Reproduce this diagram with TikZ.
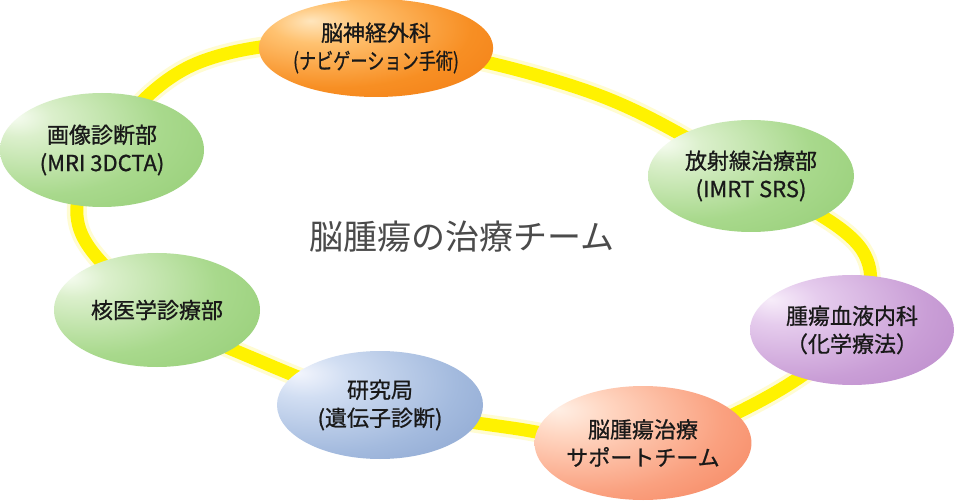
\documentclass[tikz,border=0pt]{standalone}
\usepackage{fontspec}
\setmainfont{Noto Sans CJK JP}
\newfontfamily\labelfont[FakeBold=0.9]{Noto Sans CJK JP}
\usetikzlibrary{shapes.geometric}
\pgfdeclareradialshading{shorange}{\pgfpoint{-14bp}{14bp}}{rgb(0bp)=(1,0.90,0.74); rgb(10bp)=(1,0.76,0.44); rgb(30bp)=(0.97,0.56,0.14); rgb(55bp)=(0.94,0.45,0.04); rgb(100bp)=(0.94,0.45,0.04)}
\pgfdeclareradialshading{shgreen}{\pgfpoint{-22bp}{15bp}}{rgb(0bp)=(0.97,0.99,0.95); rgb(8bp)=(0.86,0.94,0.80); rgb(30bp)=(0.66,0.85,0.55); rgb(60bp)=(0.54,0.78,0.41); rgb(100bp)=(0.54,0.78,0.41)}
\pgfdeclareradialshading{shpurple}{\pgfpoint{-20bp}{14bp}}{rgb(0bp)=(0.97,0.93,0.98); rgb(10bp)=(0.90,0.80,0.93); rgb(32bp)=(0.79,0.62,0.84); rgb(60bp)=(0.69,0.48,0.76); rgb(100bp)=(0.69,0.48,0.76)}
\pgfdeclareradialshading{shblue}{\pgfpoint{-20bp}{15bp}}{rgb(0bp)=(0.95,0.96,0.99); rgb(10bp)=(0.82,0.87,0.95); rgb(32bp)=(0.64,0.73,0.87); rgb(60bp)=(0.48,0.59,0.78); rgb(100bp)=(0.48,0.59,0.78)}
\pgfdeclareradialshading{shsalmon}{\pgfpoint{-20bp}{15bp}}{rgb(0bp)=(1,0.94,0.90); rgb(10bp)=(1,0.84,0.76); rgb(32bp)=(0.98,0.63,0.50); rgb(60bp)=(0.95,0.44,0.28); rgb(100bp)=(0.95,0.44,0.28)}
\definecolor{ringyellow}{RGB}{255,242,0}
\definecolor{ringglow}{RGB}{255,252,210}
\definecolor{labeltext}{RGB}{25,25,25}
\definecolor{titletext}{RGB}{75,75,75}
\tikzset{
  dept/.style={ellipse, minimum width=206pt, minimum height=112pt, inner sep=0pt,
    align=center, text=labeltext, font=\labelfont\fontsize{22}{28}\selectfont},
  ringglowline/.style={line width=20pt, ringglow, line cap=round},
  ringline/.style={line width=13pt, ringyellow, line cap=round},
}
\begin{document}
\begin{tikzpicture}[x=1pt,y=1pt]
\useasboundingbox (0,0) rectangle (960,-502);
\fill[white] (0,0) rectangle (960,-502);
% positions
\coordinate (o) at (376,-44);
\coordinate (img) at (102,-150);
\coordinate (nuc) at (157,-310);
\coordinate (res) at (380,-405);
\coordinate (sup) at (643,-443);
\coordinate (hem) at (852,-330);
\coordinate (rad) at (751,-176);
\coordinate (w1) at (200,-62);
\coordinate (w2) at (80,-230);
\coordinate (w3) at (262,-362);
\coordinate (w4) at (512,-428);
\coordinate (w5) at (762,-400);
\coordinate (w6) at (862,-250);
\coordinate (w7) at (590,-92);
% ring
\draw[ringglowline] plot[smooth cycle, tension=0.6] coordinates {(o) (w1) (img) (w2) (nuc) (w3) (res) (w4) (sup) (w5) (hem) (w6) (rad) (w7)};
\draw[ringline] plot[smooth cycle, tension=0.6] coordinates {(o) (w1) (img) (w2) (nuc) (w3) (res) (w4) (sup) (w5) (hem) (w6) (rad) (w7)};
% nodes
\node[dept, shading=shorange, minimum height=98pt] (neuro) at (376,-48) {脳神経外科\\\scalebox{0.78}[1]{(ナビゲーション手術)}};
\node[dept, shading=shgreen, minimum width=204pt, minimum height=114pt] (imaging) at (img) {画像診断部\\(MRI 3DCTA)};
\node[dept, shading=shgreen, minimum height=114pt] (nuclear) at (nuc) {核医学診療部};
\node[dept, shading=shblue, minimum height=108pt] (research) at (res) {研究局\\(遺伝子診断)};
\node[dept, shading=shsalmon, minimum height=114pt] (support) at (sup) {脳腫瘍治療\\サポートチーム};
\node[dept, shading=shpurple, minimum width=204pt, minimum height=110pt] (hemato) at (hem) {腫瘍血液内科\\（化学療法）};
\node[dept, shading=shgreen, minimum height=112pt] (radio) at (rad) {放射線治療部\\(IMRT SRS)};
\node[text=titletext, font=\fontsize{34}{38}\selectfont, inner sep=0pt] (title) at (462,-237) {脳腫瘍の治療チーム};
\end{tikzpicture}
\end{document}
